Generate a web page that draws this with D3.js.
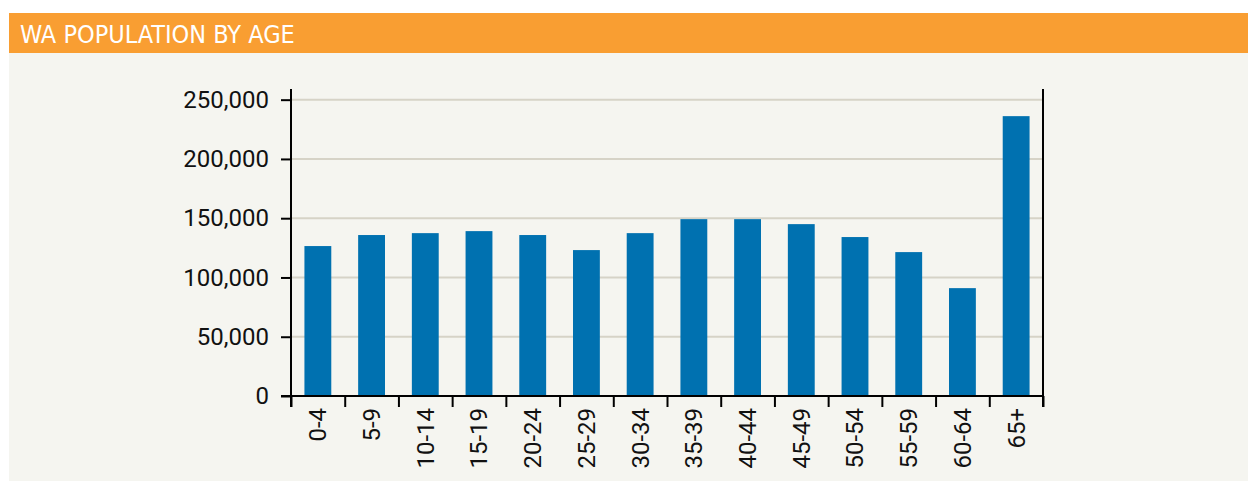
<!DOCTYPE html>
<html>
<head>
<meta charset="utf-8">
<script src="https://cdn.jsdelivr.net/npm/d3@7"></script>
<style>
  html, body { margin: 0; padding: 0; background: #ffffff; }
  svg { display: block; }
</style>
</head>
<body>
<svg id="chart" width="1248" height="481"></svg>
<script>
const title = "WA POPULATION BY AGE";
const categories = ["0-4","5-9","10-14","15-19","20-24","25-29","30-34","35-39","40-44","45-49","50-54","55-59","60-64","65+"];
const population = [126500, 135800, 137400, 139100, 135800, 123100, 137400, 149200, 149200, 145000, 134100, 121400, 91000, 236100];
const yTicks = [0, 50000, 100000, 150000, 200000, 250000];
const yMax = 259000;

const svg = d3.select("#chart");
const W = 1248, H = 481;

// header band and panel background
svg.append("rect").attr("x", 9).attr("y", 13).attr("width", W - 9).attr("height", 40).attr("fill", "#f99e32");
svg.append("rect").attr("x", 9).attr("y", 53).attr("width", W - 9).attr("height", H - 53).attr("fill", "#f5f5f0");
svg.append("text").attr("x", 20).attr("y", 43)
  .attr("fill", "#ffffff")
  .style("font-family", "'Liberation Sans Narrow', 'DejaVu Sans Condensed', sans-serif")
  .style("font-size", "25px")
  .text(title);

const left = 291, right = 1043, bottom = 396;
const fontTicks = "Roboto, 'Liberation Sans', sans-serif";

const x = d3.scaleBand().domain(categories).range([left, right]).paddingInner(0.5).paddingOuter(0.25);
const y = d3.scaleLinear().domain([0, yMax]).range([bottom, bottom - 307]);

// gridlines
svg.append("g").selectAll("line").data(yTicks.filter(d => d > 0)).join("line")
  .attr("x1", left).attr("x2", right)
  .attr("y1", d => y(d)).attr("y2", d => y(d))
  .attr("stroke", "#d6d3c7").attr("stroke-width", 2);

// bars
svg.append("g").selectAll("rect").data(categories).join("rect")
  .attr("x", d => x(d))
  .attr("width", x.bandwidth())
  .attr("y", (d, i) => y(population[i]))
  .attr("height", (d, i) => bottom - y(population[i]))
  .attr("fill", "#0071b0");

// y axis left
const yAxis = svg.append("g").attr("transform", `translate(${left},0)`)
  .call(d3.axisLeft(y).tickValues(yTicks).tickSize(10).tickPadding(12).tickFormat(d3.format(",")));
yAxis.select(".domain").remove();
yAxis.selectAll(".tick line").attr("stroke", "#000").attr("stroke-width", 2);
yAxis.selectAll("text").style("font-family", fontTicks).style("font-size", "24px").attr("fill", "#111");

// axis lines
const axisBottomY = bottom + 11;
svg.append("line").attr("x1", left).attr("x2", left).attr("y1", y(yMax)).attr("y2", axisBottomY).attr("stroke", "#000").attr("stroke-width", 2);
svg.append("line").attr("x1", right).attr("x2", right).attr("y1", y(yMax)).attr("y2", axisBottomY).attr("stroke", "#000").attr("stroke-width", 2);
svg.append("line").attr("x1", left - 10).attr("x2", right).attr("y1", bottom).attr("y2", bottom).attr("stroke", "#000").attr("stroke-width", 2);

// x boundary ticks
const xb = d3.scaleLinear().domain([0, categories.length]).range([left, right]);
const xTickAxis = svg.append("g").attr("transform", `translate(0,${bottom})`)
  .call(d3.axisBottom(xb).tickValues(d3.range(categories.length + 1)).tickSize(11).tickFormat(""));
xTickAxis.select(".domain").remove();
xTickAxis.selectAll(".tick line").attr("stroke", "#000").attr("stroke-width", 2);

// x labels
const xAxis = svg.append("g").attr("transform", `translate(0,${bottom})`)
  .call(d3.axisBottom(x).tickSize(0).tickPadding(0));
xAxis.select(".domain").remove();
xAxis.selectAll("text")
  .style("font-family", fontTicks).style("font-size", "24px").attr("fill", "#111")
  .attr("transform", "rotate(-90)")
  .attr("x", -12).attr("y", 0).attr("dy", "0.35em")
  .style("text-anchor", "end");
</script>
</body>
</html>
